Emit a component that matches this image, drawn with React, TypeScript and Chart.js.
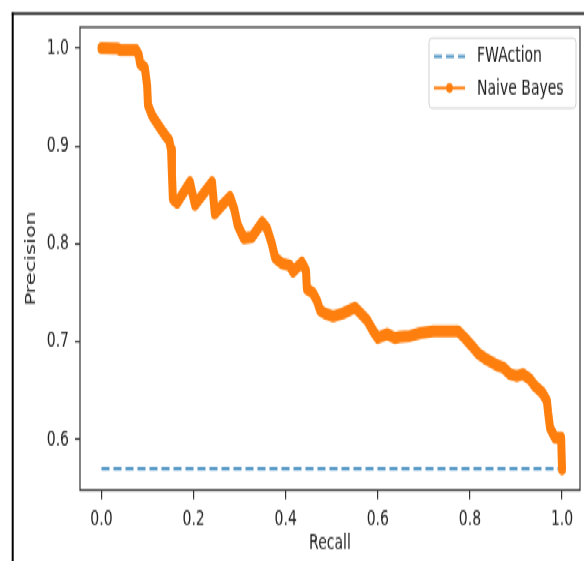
import React, { useEffect, useRef } from "react";
import { Chart, registerables } from "chart.js";

Chart.register(...registerables);

// ---- data ----
const seriesLabels = ["FWAction", "Naive Bayes"];
const xTitle = "Recall";
const yTitle = "Precision";

const recall = [
  0.0, 0.036, 0.04, 0.075, 0.081, 0.084, 0.094, 0.099, 0.101, 0.11, 0.121, 0.131,
  0.14, 0.147, 0.151, 0.153, 0.155, 0.164, 0.192, 0.203, 0.24, 0.246, 0.261, 0.279,
  0.288, 0.296, 0.309, 0.327, 0.349, 0.359, 0.37, 0.377, 0.392, 0.409, 0.416, 0.435,
  0.444, 0.446, 0.459, 0.468, 0.475, 0.485, 0.503, 0.524, 0.55, 0.561, 0.577, 0.59,
  0.6, 0.62, 0.637, 0.648, 0.67, 0.692, 0.72, 0.774, 0.789, 0.804, 0.818, 0.833,
  0.848, 0.859, 0.872, 0.887, 0.902, 0.915, 0.93, 0.941, 0.957, 0.967, 0.97, 0.974,
  0.985, 0.998, 1.0,
];
const precision = [
  1.0, 0.9995, 0.998, 0.998, 0.993, 0.984, 0.98, 0.962, 0.942, 0.931, 0.923, 0.916,
  0.91, 0.906, 0.896, 0.87, 0.846, 0.842, 0.863, 0.84, 0.863, 0.831, 0.839, 0.848,
  0.836, 0.819, 0.806, 0.807, 0.822, 0.816, 0.8, 0.786, 0.78, 0.778, 0.772, 0.781,
  0.773, 0.754, 0.75, 0.742, 0.732, 0.729, 0.726, 0.729, 0.735, 0.73, 0.722, 0.711,
  0.704, 0.708, 0.704, 0.705, 0.706, 0.709, 0.711, 0.711, 0.704, 0.696, 0.688, 0.683,
  0.679, 0.676, 0.674, 0.667, 0.665, 0.667, 0.662, 0.655, 0.648, 0.64, 0.627, 0.612,
  0.602, 0.602, 0.57,
];
const baselineRecall = [0, 1];
const baselinePrecision = [0.5706, 0.5706];

const xTicks = [0.0, 0.2, 0.4, 0.6, 0.8, 1.0];
const yTicks = [0.6, 0.7, 0.8, 0.9, 1.0];

// ---- geometry (drawing buffer is stretched vertically by SY) ----
const W = 584;
const H = 561;
const SY = 1.5;
const BH = H / SY;

const FONT = '"DejaVu Sans", "Liberation Sans", sans-serif';
const TEXT = "#222";
const ORANGE = "#ff7f0e";
const BLUE = "rgba(31,119,180,0.8)";

const decorPlugin = {
  id: "decor",
  afterDraw(chart: any) {
    const { ctx, chartArea: a } = chart;
    ctx.save();
    // axes box
    ctx.strokeStyle = "#333";
    ctx.lineWidth = 1.2;
    ctx.strokeRect(a.left, a.top, a.right - a.left, a.bottom - a.top);
    // outer frame
    ctx.fillStyle = "#000";
    ctx.fillRect(11.7, 8.3, 2, BH);
    ctx.fillRect(11.7, 8.3, W, 1.5);
    // legend
    const lx = 429, ly = 25.3, lw = 147, lh = 46.7;
    ctx.beginPath();
    ctx.roundRect(lx, ly, lw, lh, 3);
    ctx.fillStyle = "rgba(255,255,255,0.8)";
    ctx.fill();
    ctx.strokeStyle = "#d3d3d3";
    ctx.lineWidth = 1;
    ctx.stroke();
    const ds = chart.data.datasets;
    const rows = [37.5, 58.6];
    ctx.font = `14px ${FONT}`;
    ctx.textBaseline = "middle";
    ctx.textAlign = "left";
    ds.forEach((d: any, i: number) => {
      const y = rows[i];
      ctx.beginPath();
      ctx.strokeStyle = d.borderColor;
      if (d.borderDash && d.borderDash.length) {
        ctx.setLineDash([8, 4]);
        ctx.lineWidth = 2.2;
      } else {
        ctx.setLineDash([]);
        ctx.lineWidth = 2;
      }
      ctx.moveTo(434, y);
      ctx.lineTo(465, y);
      ctx.stroke();
      ctx.setLineDash([]);
      if (!d.borderDash || !d.borderDash.length) {
        ctx.beginPath();
        ctx.fillStyle = d.borderColor;
        ctx.arc(449.5, y, 3.3, 0, Math.PI * 2);
        ctx.fill();
      }
      ctx.fillStyle = TEXT;
      ctx.fillText(d.label, 477, y + 0.3);
    });
    ctx.restore();
  },
};

export default function App() {
  const ref = useRef<HTMLCanvasElement | null>(null);
  useEffect(() => {
    if (!ref.current) return;
    const chart = new Chart(ref.current, {
      type: "line",
      data: {
        datasets: [
          {
            label: seriesLabels[0],
            data: baselineRecall.map((x, i) => ({ x, y: baselinePrecision[i] })),
            borderColor: BLUE,
            backgroundColor: BLUE,
            borderWidth: 2.2,
            borderDash: [8, 4],
            pointRadius: 0,
            order: 2,
          },
          {
            label: seriesLabels[1],
            data: recall.map((x, i) => ({ x, y: precision[i] })),
            borderColor: ORANGE,
            backgroundColor: ORANGE,
            borderWidth: 8,
            borderJoinStyle: "round",
            borderCapStyle: "round",
            pointRadius: 0,
            tension: 0,
            order: 1,
          },
        ] as any,
      },
      options: {
        animation: false,
        responsive: false,
        devicePixelRatio: 1,
        layout: { padding: { top: 18, right: 4, left: 0, bottom: 0 } },
        plugins: { legend: { display: false }, tooltip: { enabled: false } },
        scales: {
          x: {
            type: "linear",
            min: -0.0467,
            max: 1.039,
            afterBuildTicks: (s: any) => {
              s.ticks = xTicks.map((v) => ({ value: v }));
            },
            afterFit: (s: any) => {
              s.height = BH - 326.7;
            },
            grid: {
              display: true,
              drawOnChartArea: false,
              drawTicks: true,
              tickLength: 6,
              color: "#333",
              tickColor: "#333",
              lineWidth: 1.2,
            },
            border: { display: false },
            ticks: {
              padding: 5,
              color: TEXT,
              font: { family: FONT, size: 14 },
              maxRotation: 0,
              autoSkip: false,
              callback: (v: any) => Number(v).toFixed(1),
            },
            title: {
              display: true,
              text: xTitle,
              color: TEXT,
              font: { family: FONT, size: 14 },
              padding: { top: 0, bottom: 3 },
            },
          },
          y: {
            type: "linear",
            min: 0.5485,
            max: 1.0215,
            afterBuildTicks: (s: any) => {
              s.ticks = yTicks.map((v) => ({ value: v }));
            },
            afterFit: (s: any) => {
              s.width = 80;
            },
            grid: {
              display: true,
              drawOnChartArea: false,
              drawTicks: true,
              tickLength: 5,
              color: "#333",
              tickColor: "#333",
              lineWidth: 1.2,
            },
            border: { display: false },
            ticks: {
              padding: 6,
              color: TEXT,
              font: { family: FONT, size: 14 },
              autoSkip: false,
              callback: (v: any) => Number(v).toFixed(1),
            },
            title: {
              display: true,
              text: yTitle,
              color: TEXT,
              font: { family: FONT, size: 14 },
              padding: { top: 22.6, bottom: 0 },
            },
          },
        },
      } as any,
      plugins: [decorPlugin],
    });
    return () => chart.destroy();
  }, []);

  return (
    <div
      style={{
        position: "absolute",
        left: 0,
        top: 0,
        width: W,
        height: BH,
        transform: `scaleY(${SY})`,
        transformOrigin: "0 0",
        background: "#fff",
      }}
    >
      <canvas
        ref={ref}
        width={W}
        height={BH}
        style={{ display: "block", width: W, height: BH }}
      />
    </div>
  );
}
